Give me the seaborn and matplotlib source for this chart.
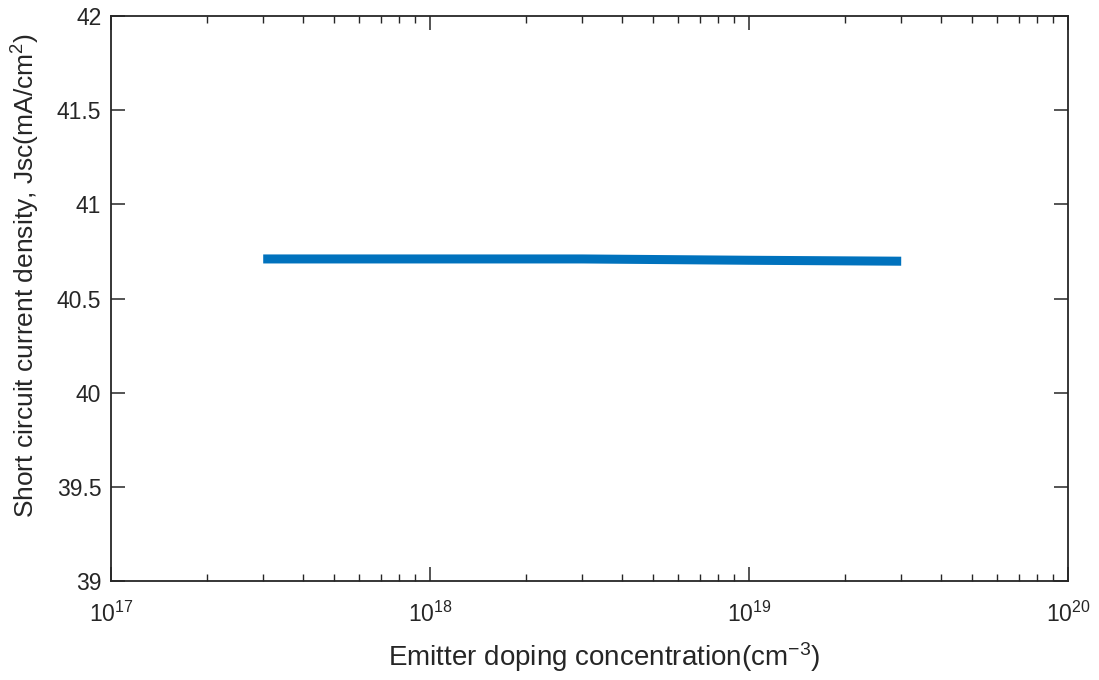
import matplotlib
matplotlib.use("Agg")
import matplotlib.pyplot as plt
import seaborn as sns
import pandas as pd
from matplotlib.ticker import LogLocator, FixedLocator, NullFormatter

doping = [3e17, 1e18, 3e18, 1e19, 3e19]
jsc = [40.71, 40.71, 40.71, 40.703, 40.698]
ytick_vals = [39, 39.5, 40, 40.5, 41, 41.5, 42]
ytick_labels = ["39", "39.5", "40", "40.5", "41", "41.5", "42"]
xtick_vals = [1e17, 1e18, 1e19, 1e20]
xtick_labels = [r"$10^{17}$", r"$10^{18}$", r"$10^{19}$", r"$10^{20}$"]

sns.set_style("white")
plt.rcParams['font.family'] = ['Liberation Sans', 'DejaVu Sans']
plt.rcParams['mathtext.default'] = 'regular'

df = pd.DataFrame({"doping": doping, "jsc": jsc})

fig = plt.figure(figsize=(10.99, 6.8), dpi=100)
ax = fig.add_axes([111/1099, 1 - 581/680, (1068-111)/1099, (581-16)/680])
sns.lineplot(data=df, x="doping", y="jsc", ax=ax, color="#0072BD", linewidth=6.5, solid_capstyle="butt")
ax.set_xscale("log")
ax.set_xlim(1e17, 1e20)
ax.set_ylim(39, 42)
ax.set_yticks(ytick_vals)
ax.set_yticklabels(ytick_labels)
ax.xaxis.set_major_locator(FixedLocator(xtick_vals))
ax.xaxis.set_minor_locator(LogLocator(base=10, subs=range(2, 10), numticks=20))
ax.xaxis.set_minor_formatter(NullFormatter())
ax.set_xticklabels(xtick_labels)
ax.tick_params(axis="both", which="major", direction="in", length=10, width=1.1,
               top=True, right=True, bottom=True, left=True,
               labelsize=16.5, colors="#262626", pad=7)
ax.tick_params(axis="x", which="major", pad=15)
ax.tick_params(axis="x", which="minor", direction="in", length=5, width=1.0,
               top=True, bottom=True, colors="#262626")
for s in ax.spines.values():
    s.set_color("#262626")
    s.set_linewidth(1.3)
ax.set_xlabel("Emitter doping concentration(cm$^{-3}$)", fontsize=20, color="#262626", labelpad=10)
ax.set_ylabel("Short circuit current density, Jsc(mA/cm$^{2}$)", fontsize=19, color="#262626")
ax.yaxis.set_label_coords(-0.072, 0.54)
ax.xaxis.set_label_coords(0.515, -0.105)
fig.savefig("out.png", dpi=100)
